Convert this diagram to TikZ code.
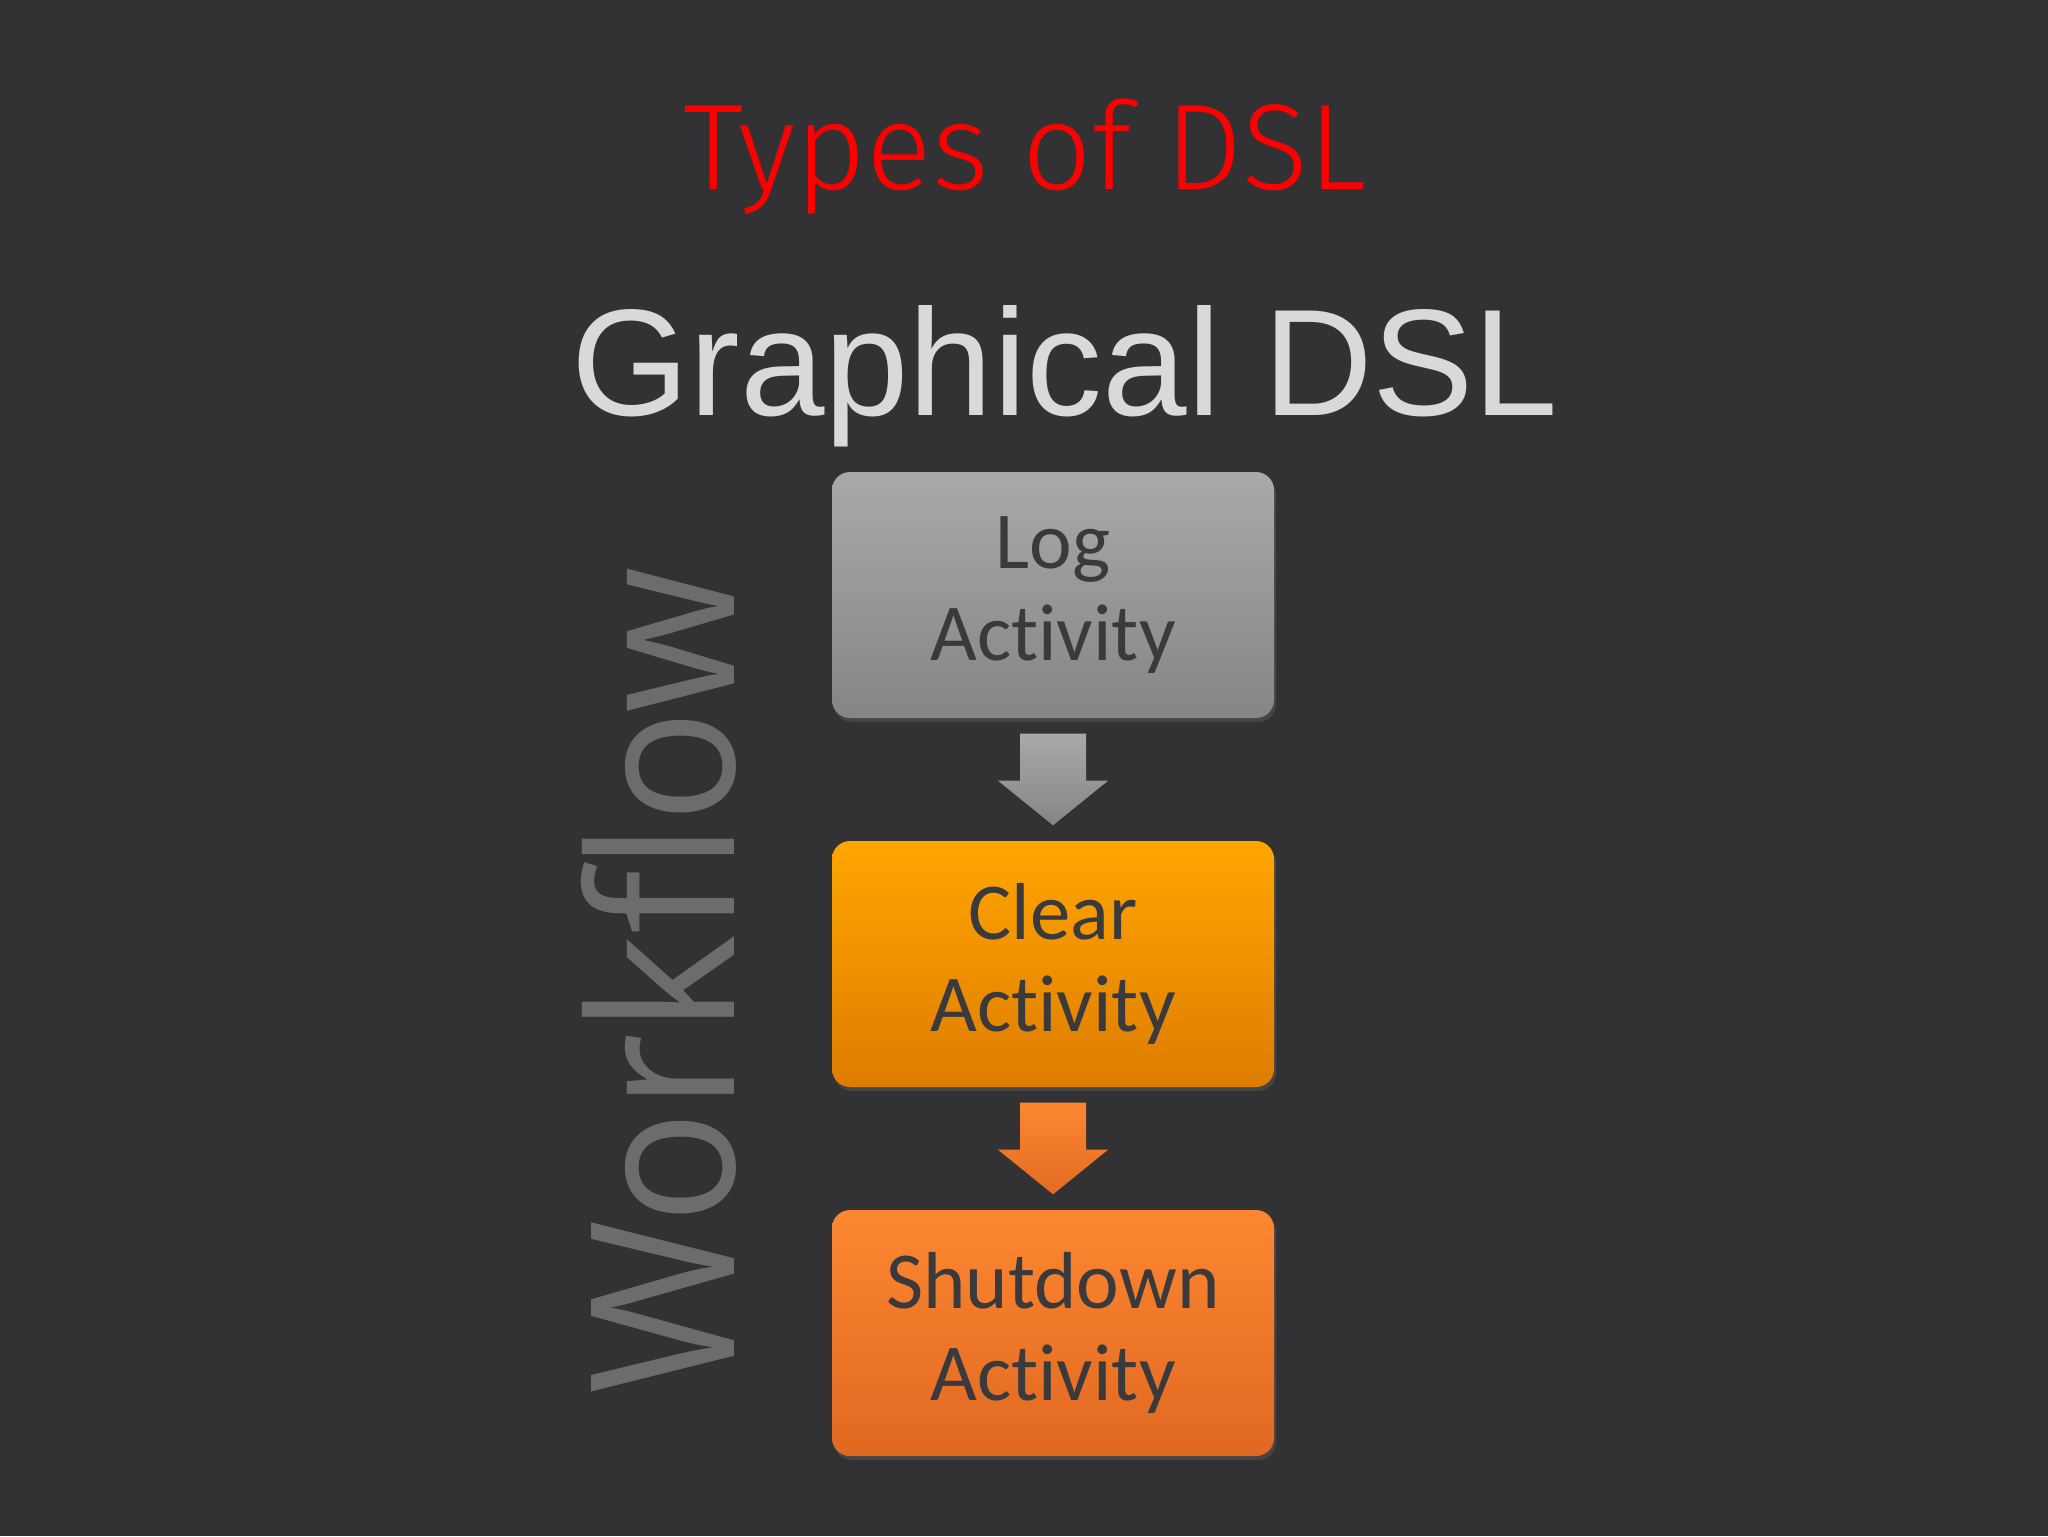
\documentclass[tikz,border=0pt]{standalone}
\usepackage{fontspec}
\setmainfont{Carlito}[RawFeature={-liga}]
\newfontfamily\titlefont{Fira Sans Light}
\newfontfamily\headfont{Liberation Sans}
\newfontfamily\sidefont{Open Sans}[FakeStretch=0.94]
\usetikzlibrary{calc,shadows}

\definecolor{slidebg}{RGB}{50,50,52}
\definecolor{titlered}{RGB}{255,0,0}
\definecolor{headgray}{RGB}{217,217,219}
\definecolor{sidegray}{RGB}{108,108,110}
\definecolor{boxtext}{RGB}{58,58,60}
\definecolor{grayhi}{RGB}{169,168,171}
\definecolor{graylo}{RGB}{133,132,135}
\definecolor{amberhi}{RGB}{255,166,0}
\definecolor{amberlo}{RGB}{222,124,0}
\definecolor{orangehi}{RGB}{253,135,48}
\definecolor{orangelo}{RGB}{224,104,34}

\tikzset{
  activity/.style={rounded corners=1.8mm, minimum width=44.2mm, minimum height=24.6mm,
    inner sep=0pt, align=center, text=boxtext,
    font=\fontsize{23}{26}\selectfont,
    drop shadow={opacity=0.25, shadow xshift=0.2mm, shadow yshift=-0.4mm}},
}

\begin{document}
\begin{tikzpicture}[x=0.1mm,y=-0.1mm]
\fill[slidebg] (0,0) rectangle (2048,1536);

\node[anchor=base, text=titlered, font=\titlefont\fontsize{34.7}{40}\selectfont] (title) at (1025,189) {Types of DSL};
\node[anchor=base, text=headgray, font=\headfont\fontsize{43.2}{48}\selectfont] (head) at (1065,415) {Graphical DSL};
\node[rotate=90, text=sidegray, font=\sidefont\fontsize{57}{64}\selectfont] (side) at (659,981) {Workflow};

\node[activity, top color=grayhi, bottom color=graylo] (log) at (1053,595) {Log\\Activity};
\node[activity, top color=amberhi, bottom color=amberlo] (clear) at (1053,964) {Clear\\Activity};
\node[activity, top color=orangehi, bottom color=orangelo] (shutdown) at (1053,1333) {Shutdown\\Activity};

% block arrows between the steps
\shade[top color=grayhi, bottom color=graylo]
  ($(log.south)+(-33,15)$) -- ($(log.south)+(33,15)$) -- ($(log.south)+(33,62)$)
  -- ($(log.south)+(55,62)$) -- ($(clear.north)+(0,-15)$) -- ($(log.south)+(-55,62)$)
  -- ($(log.south)+(-33,62)$) -- cycle;
\shade[top color=orangehi, bottom color=orangelo!90!orangehi]
  ($(clear.south)+(-33,15)$) -- ($(clear.south)+(33,15)$) -- ($(clear.south)+(33,62)$)
  -- ($(clear.south)+(55,62)$) -- ($(shutdown.north)+(0,-15)$) -- ($(clear.south)+(-55,62)$)
  -- ($(clear.south)+(-33,62)$) -- cycle;
\end{tikzpicture}
\end{document}
